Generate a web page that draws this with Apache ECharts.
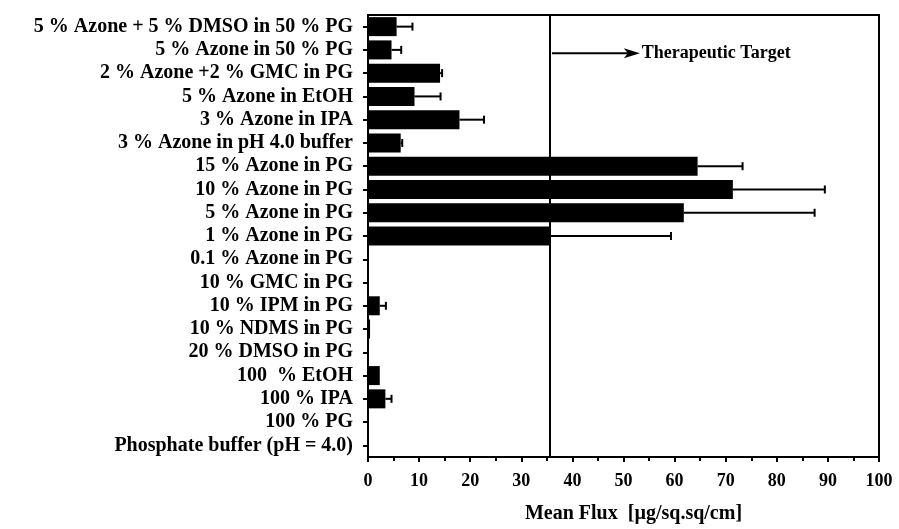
<!DOCTYPE html>
<html>
<head>
<meta charset="utf-8">
<script src="https://cdn.jsdelivr.net/npm/echarts@6/dist/echarts.min.js"></script>
<style>
html,body{margin:0;padding:0;background:#fff;}
#chart{width:899px;height:529px;}
</style>
</head>
<body>
<div id="chart"></div>
<script>
const categories = [
  "5 % Azone + 5 % DMSO in 50 % PG",
  "5 % Azone in 50 % PG",
  "2 % Azone +2 % GMC in PG",
  "5 % Azone in EtOH",
  "3 % Azone in IPA",
  "3 % Azone in pH 4.0 buffer",
  "15 % Azone in PG",
  "10 % Azone in PG",
  "5 % Azone in PG",
  "1 % Azone in PG",
  "0.1 % Azone in PG",
  "10 % GMC in PG",
  "10 % IPM in PG",
  "10 % NDMS in PG",
  "20 % DMSO in PG",
  "100  % EtOH",
  "100 % IPA",
  "100 % PG",
  "Phosphate buffer (pH = 4.0)"
];
const meanFlux = [5.6, 4.6, 14.1, 9.1, 17.9, 6.4, 64.5, 71.4, 61.8, 35.6, 0, 0, 2.3, 0.4, 0, 2.3, 3.4, 0, 0];
const errorHigh = [8.7, 6.5, 14.5, 14.2, 22.7, 6.7, 73.3, 89.4, 87.4, 59.3, 0, 0, 3.5, 0.4, 0, 2.3, 4.6, 0, 0];
const therapeuticTarget = 35.6;
const targetLabel = "Therapeutic Target";
const xAxisName = "Mean Flux  [\u00b5g/sq.sq/cm]";

const FONT = "Liberation Serif";
const chart = echarts.init(document.getElementById('chart'));

const errData = categories.map((c, i) => [i, meanFlux[i], errorHigh[i]]);

const option = {
  animation: false,
  backgroundColor: '#fff',
  grid: {
    left: 368, right: 20, top: 15, bottom: 70,
    show: true, borderColor: '#000', borderWidth: 2, backgroundColor: 'transparent'
  },
  xAxis: {
    type: 'value', min: 0, max: 100, interval: 10,
    name: xAxisName, nameLocation: 'middle', nameGap: 47,
    nameTextStyle: { fontFamily: FONT, fontWeight: 'bold', fontSize: 20, color: '#000', padding: [0, 0, 0, 20] },
    axisLine: { show: true, lineStyle: { color: '#000', width: 2 } },
    axisTick: { show: true, inside: false, length: 5, lineStyle: { color: '#000', width: 2 } },
    minorTick: { show: true, splitNumber: 2, length: 4, lineStyle: { color: '#000', width: 2 } },
    axisLabel: { fontFamily: FONT, fontWeight: 'bold', fontSize: 18, color: '#000', margin: 15 },
    splitLine: { show: false }
  },
  yAxis: {
    type: 'category', data: categories, inverse: true,
    axisLine: { show: true, lineStyle: { color: '#000', width: 2 } },
    axisTick: { show: true, alignWithLabel: true, length: 5, lineStyle: { color: '#000', width: 2 } },
    axisLabel: { fontFamily: FONT, fontWeight: 'bold', fontSize: 20, color: '#000', margin: 15, interval: 0 },
    splitLine: { show: false }
  },
  series: [
    {
      type: 'bar', data: meanFlux, barWidth: 19,
      itemStyle: { color: '#000' },
      markLine: {
        symbol: 'none', silent: true,
        label: { show: false },
        lineStyle: { color: '#000', width: 2, type: 'solid' },
        data: [{ xAxis: therapeuticTarget }]
      }
    },
    {
      type: 'custom', data: errData,
      renderItem: function (params, api) {
        const idx = api.value(0), m = api.value(1), h = api.value(2);
        if (h - m < 0.15) return null;
        const p0 = api.coord([m, idx]);
        const p1 = api.coord([h, idx]);
        const style = { stroke: '#000', lineWidth: 2 };
        return {
          type: 'group',
          children: [
            { type: 'line', shape: { x1: p0[0], y1: p0[1], x2: p1[0], y2: p1[1] }, style: style },
            { type: 'line', shape: { x1: p1[0], y1: p1[1] - 4, x2: p1[0], y2: p1[1] + 4 }, style: style }
          ]
        };
      },
      z: 5
    }
  ]
};
chart.setOption(option);

// Annotation arrow for therapeutic target
const xStart = chart.convertToPixel({ xAxisIndex: 0 }, therapeuticTarget) + 2;
const xEnd = chart.convertToPixel({ xAxisIndex: 0 }, 53.2);
const yA = chart.convertToPixel({ yAxisIndex: 0 }, 1);
const yB = chart.convertToPixel({ yAxisIndex: 0 }, 2);
const yArrow = yA + (yB - yA) * 0.14;
chart.setOption({
  graphic: [
    { type: 'line', shape: { x1: xStart, y1: yArrow, x2: xEnd - 12, y2: yArrow }, style: { stroke: '#000', lineWidth: 2 }, z: 10 },
    { type: 'polygon', shape: { points: [[xEnd - 16, yArrow - 5], [xEnd, yArrow], [xEnd - 16, yArrow + 5], [xEnd - 12, yArrow]] }, style: { fill: '#000' }, z: 10 },
    { type: 'text', x: xEnd + 2, y: yArrow, style: { text: targetLabel, fontFamily: FONT, fontWeight: 'bold', fontSize: 18, fill: '#000', textVerticalAlign: 'middle', verticalAlign: 'middle' }, z: 10 }
  ]
});
</script>
</body>
</html>
